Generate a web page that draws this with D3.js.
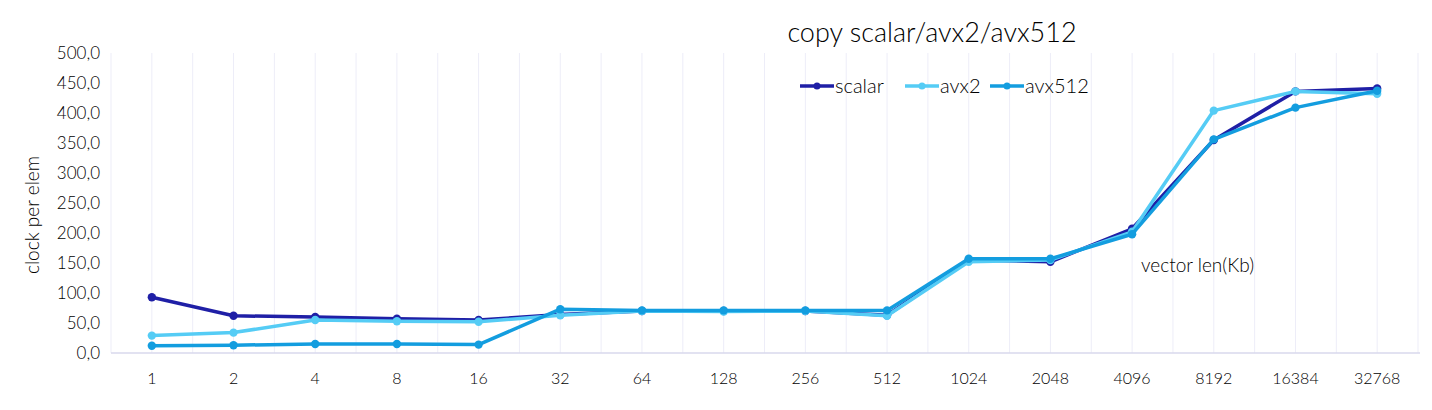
<!DOCTYPE html>
<html>
<head>
<meta charset="utf-8">
<script src="https://cdn.jsdelivr.net/npm/d3@7"></script>
<style>
  body { margin: 0; background: #fff; }
  text { font-family: "Lato", "Open Sans", sans-serif; font-weight: 300; fill: #000; }
</style>
</head>
<body>
<svg id="chart" width="1432" height="410"></svg>
<script>
// data
var categories = ["1","2","4","8","16","32","64","128","256","512","1024","2048","4096","8192","16384","32768"];
var scalar = [93, 62, 60, 57, 55, 64, 70, 70, 70, 63, 155, 152, 207, 355, 436, 441];
var avx2   = [29, 34, 55, 53, 52, 63, 70, 69, 70, 62, 152, 155, 202, 404, 436, 432];
var avx512 = [12, 13, 15, 15, 14, 73, 71, 71, 71, 71, 157, 157, 198, 356, 409, 437];
var yTicks = [0, 50, 100, 150, 200, 250, 300, 350, 400, 450, 500];

var seriesNames = ["scalar", "avx2", "avx512"];
var seriesColors = ["#1f1fa6", "#55ccf5", "#139ddf"];
var seriesData = [scalar, avx2, avx512];

var svg = d3.select("#chart");

var x = d3.scaleBand().domain(categories).range([111, 1418]).padding(0);
var y = d3.scaleLinear().domain([0, 500]).range([353, 53]);

var loc = d3.formatLocale({decimal: ",", thousands: ".", grouping: [3], currency: ["", ""]});
var fmt = loc.format(".1f");

// vertical gridlines every half band
var grid = [];
categories.forEach(function(c) {
  grid.push(x(c));
  grid.push(x(c) + x.bandwidth() / 2);
});
grid.push(x.range()[1]);
svg.append("g").selectAll("line").data(grid).enter().append("line")
  .attr("x1", function(d) { return d; }).attr("x2", function(d) { return d; })
  .attr("y1", y(500)).attr("y2", y(0))
  .style("stroke", "#ededf8").style("stroke-width", 1);

// x axis line
svg.append("line")
  .attr("x1", 111).attr("x2", 1420).attr("y1", y(0)).attr("y2", y(0))
  .style("stroke", "#d9d9ec").style("stroke-width", 1.5);

// y tick labels
svg.append("g").selectAll("text").data(yTicks).enter().append("text")
  .attr("x", 100).attr("y", function(d) { return y(d) + 6; })
  .attr("text-anchor", "end").style("font-size", "17px")
  .text(function(d) { return fmt(d); });

// x tick labels
svg.append("g").selectAll("text").data(categories).enter().append("text")
  .attr("x", function(d) { return x(d) + x.bandwidth() / 2; })
  .attr("y", 384).attr("text-anchor", "middle").style("font-size", "16px")
  .text(function(d) { return d; });

// axis title
svg.append("text")
  .attr("transform", "translate(39,215) rotate(-90)")
  .attr("text-anchor", "middle").style("font-size", "19px")
  .text("clock per elem");

// chart title
svg.append("text")
  .attr("x", 932).attr("y", 42).attr("text-anchor", "middle")
  .style("font-size", "27px")
  .text("copy scalar/avx2/avx512");

// x axis name
svg.append("text")
  .attr("x", 1141).attr("y", 272).style("font-size", "19px")
  .text("vector len(Kb)");

var line = d3.line()
  .x(function(d, i) { return x(categories[i]) + x.bandwidth() / 2; })
  .y(function(d) { return y(d); });

seriesData.forEach(function(vals, k) {
  var g = svg.append("g");
  g.append("path")
    .attr("d", line(vals))
    .style("fill", "none")
    .style("stroke", seriesColors[k])
    .style("stroke-width", "3.5px")
    .style("stroke-linejoin", "round");
  g.selectAll("circle").data(vals).enter().append("circle")
    .attr("cx", function(d, i) { return x(categories[i]) + x.bandwidth() / 2; })
    .attr("cy", function(d) { return y(d); })
    .attr("r", 4.2)
    .style("fill", seriesColors[k]);
});

// legend
var legX = [800, 905, 990];
seriesNames.forEach(function(name, k) {
  var g = svg.append("g").attr("transform", "translate(" + legX[k] + ",86)");
  g.append("line").attr("x1", 0).attr("x2", 34).attr("y1", 0).attr("y2", 0)
    .style("stroke", seriesColors[k]).style("stroke-width", "3.5px");
  g.append("circle").attr("cx", 17).attr("cy", 0).attr("r", 3.5)
    .style("fill", seriesColors[k]);
  g.append("text").attr("x", 35).attr("y", 7).style("font-size", "20px").text(name);
});
</script>
</body>
</html>
